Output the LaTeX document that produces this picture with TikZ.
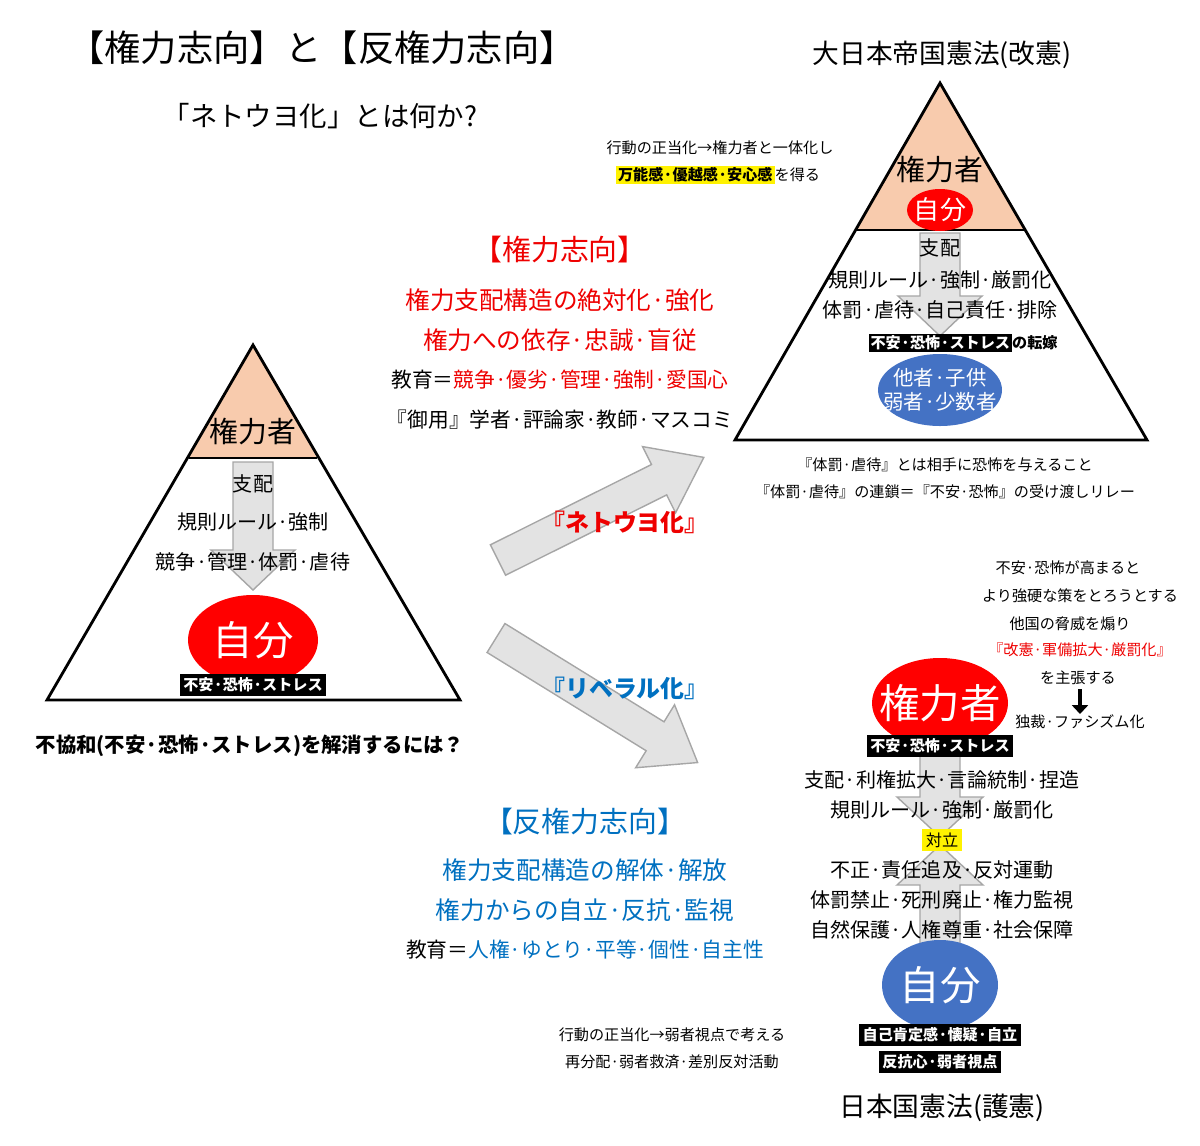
\documentclass[tikz,border=0pt]{standalone}
\usepackage{fontspec}
\setmainfont{Noto Sans CJK JP}
\usetikzlibrary{arrows.meta}
\definecolor{peach}{HTML}{F8CBAD}
\definecolor{libblue}{HTML}{0070C0}
\definecolor{ellblue}{HTML}{4472C4}
\definecolor{arrgray}{HTML}{E3E3E3}
\definecolor{redred}{HTML}{EE0000}
\newcommand{\fs}[1]{\fontsize{#1}{#1}\selectfont}
\setlength{\fboxsep}{0.6pt}
% block arrow pointing along +x: length, shaft half width, head half width, head length
\newcommand{\blockarrow}[4]{\draw[gray!70, fill=arrgray] (0,-#2) -- (#1-#4,-#2) -- (#1-#4,-#3) -- (#1,0) -- (#1-#4,#3) -- (#1-#4,#2) -- (0,#2) -- cycle;}

\begin{document}
\begin{tikzpicture}[x=0.01cm,y=-0.01cm,
  txt/.style={inner sep=0pt,font=\fs{5.7}},
  small/.style={inner sep=0pt,font=\fs{4.3}},
  blk/.style={fill=black,text=white,inner sep=1pt,font=\bfseries\fs{4.3}},
  big/.style={text=white,font=\fs{11.5}}]
\useasboundingbox (0,0) rectangle (1200,1145);
%================================================================
%	Titles
\node[inner sep=0pt,font=\fs{10.3}] (title) at (322,48) {【権力志向】と【反権力志向】};
\node[inner sep=0pt,font=\fs{7.8}] (sub) at (320,116) {「ネトウヨ化」とは何か?};
\node[inner sep=0pt,font=\fs{7.6}] (konst1) at (942,55) {大日本帝国憲法(改憲)};
\node[inner sep=0pt,font=\fs{7.6}] (konst2) at (942,1108) {日本国憲法(護憲)};
%================================================================
%	Left triangle
\fill[peach] (253,345) -- (189,458) -- (317,458) -- cycle;
\draw[thick] (253,345) -- (47,700) -- (460,700) -- cycle;
\draw[thick] (189,458) -- (317,458);
\node[txt,font=\fs{8.2}] (lk) at (253,432) {権力者};
\begin{scope}[shift={(253,462)},rotate=-90]
\blockarrow{128}{20}{42}{40}
\end{scope}
\node[txt] (l1) at (253,484) {支配};
\node[txt] (l2) at (253,522) {規則ルール·強制};
\node[txt] (l3) at (253,562) {競争·管理·体罰·虐待};
\fill[red] (253,640) ellipse (65 and 45);
\node[big] (ljibun) at (253,640) {自分};
\node[blk] (lfear) at (253,685) {不安·恐怖·ストレス};
\node[inner sep=0pt,font=\bfseries\fs{5.8}] (q) at (250,746) {不協和(不安·恐怖·ストレス)を解消するには？};
%================================================================
%	Right top triangle
\fill[peach] (940,83) -- (855,230) -- (1025,230) -- cycle;
\draw[thick] (940,83) -- (735,440) -- (1147,440) -- cycle;
\draw[thick] (855,230) -- (1025,230);
\node[txt,font=\fs{8.2}] (rk) at (940,170) {権力者};
\fill[red] (940,210) ellipse (33 and 21);
\node[inner sep=0pt,text=white,font=\fs{7.4}] (rjibun) at (940,210) {自分};
\begin{scope}[shift={(940,233)},rotate=-90]
\blockarrow{103}{20}{42}{40}
\end{scope}
\node[txt] (r1) at (940,248) {支配};
\node[txt] (r2) at (940,280) {規則ルール·強制·厳罰化};
\node[txt] (r3) at (940,310) {体罰·虐待·自己責任·排除};
\node[inner sep=0pt,font=\bfseries\fs{4.3}] (rfear) at (963,343) {\colorbox{black}{\textcolor{white}{不安·恐怖·ストレス}}の転嫁};
\fill[ellblue] (940,390) ellipse (62 and 36);
\node[txt,text=white,align=center,font=\fs{5.8}] (other) at (940,390) {他者·子供\\[1pt]弱者·少数者};
\node[small] (j1) at (720,148) {行動の正当化→権力者と一体化し};
\node[small] (j2) at (718,175) {\colorbox{yellow}{\bfseries 万能感·優越感·安心感}を得る};
\node[small] (t1) at (945,465) {『体罰·虐待』とは相手に恐怖を与えること};
\node[small] (t2) at (945,492) {『体罰·虐待』の連鎖＝『不安·恐怖』の受け渡しリレー};
%================================================================
%	Middle
\node[txt,text=redred,font=\fs{8.2}] (m0) at (560,250) {【権力志向】};
\node[txt,text=redred,font=\fs{7}] (m1) at (560,300) {権力支配構造の絶対化·強化};
\node[txt,text=redred,font=\fs{7}] (m2) at (560,340) {権力への依存·忠誠·盲従};
\node[txt,font=\fs{5.9}] (m3) at (560,380) {教育＝\textcolor{redred}{競争·優劣·管理·強制·愛国心}};
\node[txt,font=\fs{5.9}] (m4) at (560,420) {『御用』学者·評論家·教師·マスコミ};
\begin{scope}[shift={(498,560)},rotate=26.5]
\blockarrow{230}{17}{37}{50}
\end{scope}
\node[txt,text=redred,font=\bfseries\fs{6.8}] (neto) at (625,522) {『ネトウヨ化』};
\begin{scope}[shift={(496,638)},rotate=-31.7]
\blockarrow{237}{17}{37}{50}
\end{scope}
\node[txt,text=libblue,font=\bfseries\fs{6.8}] (lib) at (625,688) {『リベラル化』};
\node[txt,text=libblue,font=\fs{8.2}] (b0) at (585,822) {【反権力志向】};
\node[txt,text=libblue,font=\fs{7}] (b1) at (585,870) {権力支配構造の解体·解放};
\node[txt,text=libblue,font=\fs{7}] (b2) at (585,910) {権力からの自立·反抗·監視};
\node[txt,font=\fs{5.9}] (b3) at (585,950) {教育＝\textcolor{libblue}{人権·ゆとり·平等·個性·自主性}};
\node[small] (k1) at (672,1035) {行動の正当化→弱者視点で考える};
\node[small] (k2) at (672,1062) {再分配·弱者救済·差別反対活動};
%================================================================
%	Right bottom
\node[small] (s1) at (1068,568) {不安·恐怖が高まると};
\node[small] (s2) at (1080,596) {より強硬な策をとろうとする};
\node[small] (s3) at (1070,624) {他国の脅威を煽り};
\node[small,text=redred] (s4) at (1080,650) {『改憲·軍備拡大·厳罰化』};
\node[small] (s5) at (1078,678) {を主張する};
\node[small] (s6) at (1080,722) {独裁·ファシズム化};
\coordinate (sa) at (1080,689);
\coordinate (sb) at (1080,714);
\draw[line width=1.3pt,-{Triangle[length=2.5pt,width=4.5pt]}] (sa) -- (sb);
\begin{scope}[shift={(940,752)},rotate=-90]
\blockarrow{85}{20}{43}{40}
\end{scope}
\begin{scope}[shift={(940,950)},rotate=90]
\blockarrow{105}{20}{43}{40}
\end{scope}
\fill[red] (940,703) ellipse (68 and 45);
\node[big] (pk) at (940,703) {権力者};
\node[blk] (pfear) at (940,746) {不安·恐怖·ストレス};
\node[txt] (p1) at (942,780) {支配·利権拡大·言論統制·捏造};
\node[txt] (p2) at (942,810) {規則ルール·強制·厳罰化};
\node[txt,fill=yellow,inner sep=1pt,font=\fs{4.6}] (vs) at (942,840) {対立};
\node[txt] (p3) at (942,870) {不正·責任追及·反対運動};
\node[txt] (p4) at (942,900) {体罰禁止·死刑廃止·権力監視};
\node[txt] (p5) at (942,930) {自然保護·人権尊重·社会保障};
\fill[ellblue] (940,985) ellipse (58 and 45);
\node[big] (bjibun) at (940,985) {自分};
\node[blk] (bs1) at (940,1035) {自己肯定感·懐疑·自立};
\node[blk] (bs2) at (940,1062) {反抗心·弱者視点};
\end{tikzpicture}
\end{document}
